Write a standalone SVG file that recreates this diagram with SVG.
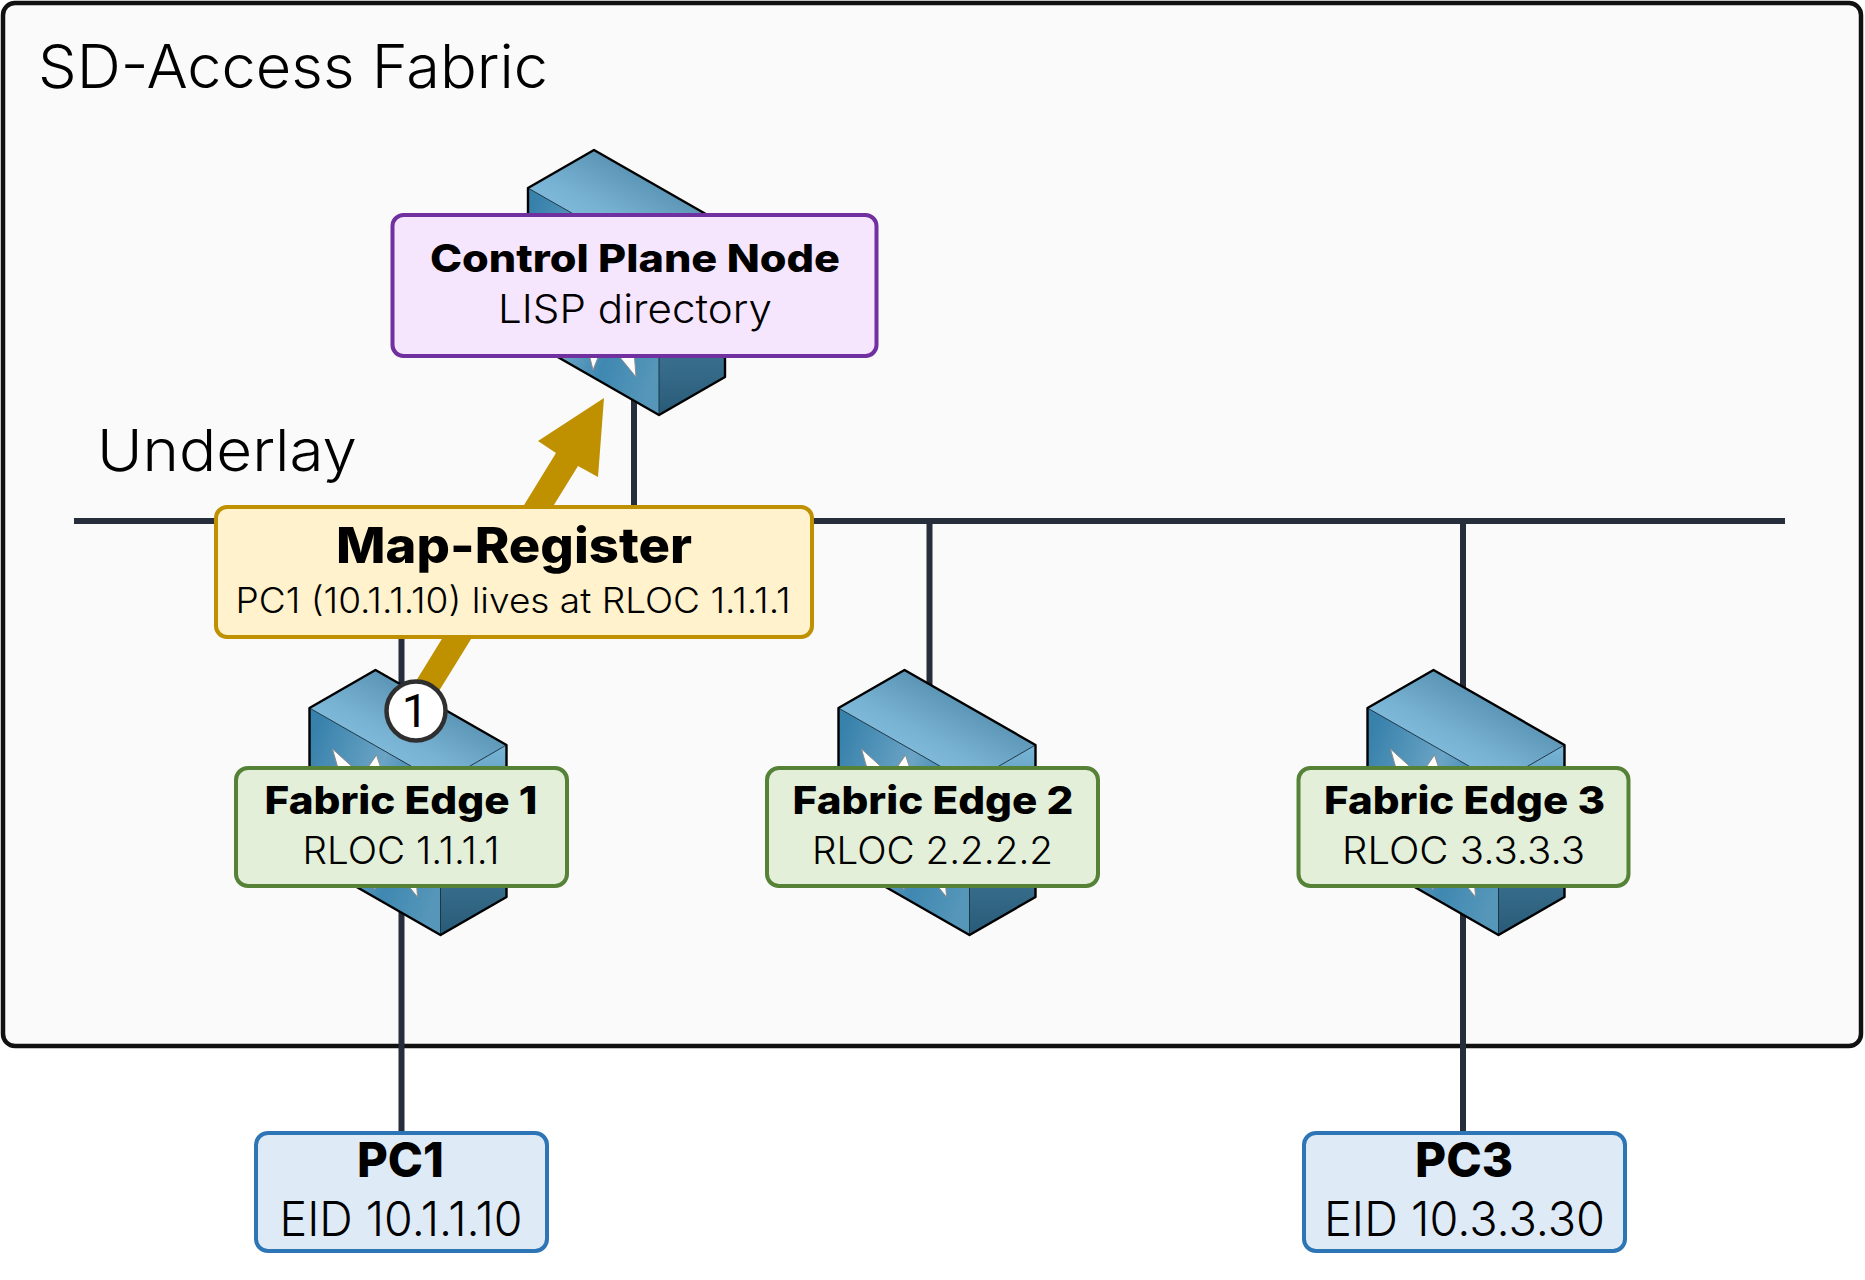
<svg xmlns="http://www.w3.org/2000/svg" xmlns:xlink="http://www.w3.org/1999/xlink" width="1865" height="1280" viewBox="0 0 1865 1280">
<style>
text{font-family:"Inter","Open Sans","Liberation Sans",sans-serif;fill:#000;}
.b{font-weight:800;}
.l{font-weight:300;}
.n{font-family:"Roboto","Liberation Sans",sans-serif;font-weight:400;}
.ln{stroke:#262e3b;stroke-width:6;fill:none;}
.box{stroke-width:4;}
.cp{fill:#f6e6fd;stroke:#7030a0;}
.fe{fill:#e3efd9;stroke:#568238;}
.pc{fill:#deeaf6;stroke:#2e75b6;}
.mr{fill:#fff2cc;stroke:#bf9000;}
</style>
<defs>
<linearGradient id="gTop" x1="0.05" y1="0.8" x2="0.7" y2="0.1"><stop offset="0" stop-color="#8ac6e6"/><stop offset="0.45" stop-color="#78b2d2"/><stop offset="1" stop-color="#4d86a6"/></linearGradient>
<linearGradient id="gLeft" x1="0" y1="0.15" x2="1" y2="0.75"><stop offset="0" stop-color="#3781ab"/><stop offset="0.45" stop-color="#6ba4c5"/><stop offset="0.7" stop-color="#3f88b1"/><stop offset="1" stop-color="#5596b9"/></linearGradient>
<linearGradient id="gRight" x1="0" y1="0" x2="0" y2="1"><stop offset="0" stop-color="#78b6d8"/><stop offset="0.5" stop-color="#447c9b"/><stop offset="1" stop-color="#285b78"/></linearGradient>
<g id="sw">
<polygon points="0,0 66,-38 197,37 131,75" fill="url(#gTop)"/>
<polygon points="0,0 131,75 131,227 0,152" fill="url(#gLeft)"/>
<polygon points="131,75 197,37 197,189 131,227" fill="url(#gRight)"/>
<path d="M0,0 L131,75 L197,37 M131,75 V227" fill="none" stroke="#1b3647" stroke-width="1"/>
<polygon points="0,0 66,-38 197,37 197,189 131,227 0,152" fill="none" stroke="#000" stroke-width="2.4" stroke-linejoin="round"/>
<g fill="#fff" stroke="#8c8c8c" stroke-width="1">
<polygon points="23,41 44,60 29,62"/>
<polygon points="67,47 72,62 58,60"/>
<polygon points="65,182 60,162 73,162"/>
<polygon points="108,189 86,162 106,162"/>
</g>
</g>
</defs>
<rect id="fabric" x="3" y="3" width="1858" height="1043" rx="12" fill="#fafafa" stroke="#111" stroke-width="4.5"/>
<text x="38" y="88" font-size="60" class="l" textLength="510" lengthAdjust="spacingAndGlyphs">SD-Access Fabric</text>
<text x="97" y="471" font-size="58" class="l" textLength="260" lengthAdjust="spacingAndGlyphs">Underlay</text>
<g id="connectors">
<line class="ln" x1="74" y1="521" x2="1785" y2="521"/>
<line class="ln" x1="634" y1="400" x2="634" y2="521"/>
<line class="ln" x1="401.5" y1="521" x2="401.5" y2="1132"/>
<line class="ln" x1="929.5" y1="521" x2="929.5" y2="700"/>
<line class="ln" x1="1463" y1="521" x2="1463" y2="1132"/>
<polygon id="map-register-arrow" points="604,398 598,477 578,466 426,712 397,712 556,453 538,441" fill="#bf9000"/>
</g>
<g id="sw-control"><use xlink:href="#sw" href="#sw" x="528" y="188"/></g>
<g id="sw-edge1"><use xlink:href="#sw" href="#sw" x="309.5" y="708"/></g>
<g id="sw-edge2"><use xlink:href="#sw" href="#sw" x="838.5" y="708"/></g>
<g id="sw-edge3"><use xlink:href="#sw" href="#sw" x="1367.5" y="708"/></g>
<g id="control-plane">
<rect class="box cp" x="392.5" y="215" width="484" height="141" rx="11"/>
<text x="430" y="272" font-size="38" class="b" textLength="410" lengthAdjust="spacingAndGlyphs">Control Plane Node</text>
<text x="498" y="323" font-size="40" class="l" textLength="274" lengthAdjust="spacingAndGlyphs">LISP directory</text>
</g>
<g id="map-register">
<rect class="box mr" x="216" y="507" width="596" height="130" rx="11"/>
<text x="336" y="563" font-size="49" class="b" textLength="356" lengthAdjust="spacingAndGlyphs">Map-Register</text>
<text x="235.5" y="613" font-size="35" class="l" textLength="555" lengthAdjust="spacingAndGlyphs">PC1 (10.1.1.10) lives at RLOC 1.1.1.1</text>
</g>
<g id="edge1">
<rect class="box fe" x="236" y="768" width="331" height="118" rx="12"/>
<text x="264.5" y="814" font-size="38" class="b" textLength="273" lengthAdjust="spacingAndGlyphs">Fabric Edge 1</text>
<text x="302.5" y="864" font-size="38" class="l" textLength="197" lengthAdjust="spacingAndGlyphs">RLOC 1.1.1.1</text>
</g>
<g id="edge2">
<rect class="box fe" x="767" y="768" width="331" height="118" rx="12"/>
<text x="792.5" y="814" font-size="38" class="b" textLength="281" lengthAdjust="spacingAndGlyphs">Fabric Edge 2</text>
<text x="812" y="864" font-size="38" class="l" textLength="241" lengthAdjust="spacingAndGlyphs">RLOC 2.2.2.2</text>
</g>
<g id="edge3">
<rect class="box fe" x="1298.5" y="768" width="330" height="118" rx="12"/>
<text x="1324" y="814" font-size="38" class="b" textLength="281" lengthAdjust="spacingAndGlyphs">Fabric Edge 3</text>
<text x="1342" y="864" font-size="38" class="l" textLength="243" lengthAdjust="spacingAndGlyphs">RLOC 3.3.3.3</text>
</g>
<g id="pc1">
<rect class="box pc" x="256" y="1133" width="291" height="118" rx="12"/>
<text x="357" y="1177" font-size="48" class="b" textLength="87" lengthAdjust="spacingAndGlyphs">PC1</text>
<text x="279.5" y="1236" font-size="48" class="l" textLength="243" lengthAdjust="spacingAndGlyphs">EID 10.1.1.10</text>
</g>
<g id="pc3">
<rect class="box pc" x="1304" y="1133" width="321" height="118" rx="12"/>
<text x="1415" y="1177" font-size="48" class="b" textLength="98" lengthAdjust="spacingAndGlyphs">PC3</text>
<text x="1324" y="1236" font-size="48" class="l" textLength="281" lengthAdjust="spacingAndGlyphs">EID 10.3.3.30</text>
</g>
<g id="badge">
<circle cx="416" cy="711" r="29.5" fill="#fff" stroke="#2f2f2f" stroke-width="4.5"/>
<text class="n" x="415" y="727" font-size="47" text-anchor="middle">1</text>
</g>
</svg>
